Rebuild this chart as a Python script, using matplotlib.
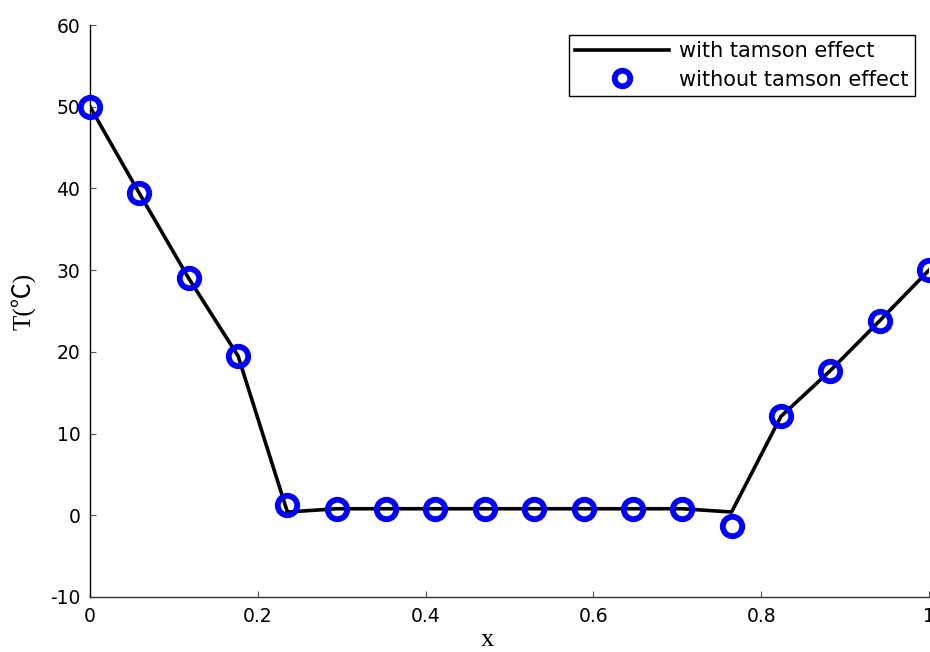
import matplotlib
matplotlib.use("Agg")
import matplotlib.pyplot as plt
import numpy as np

plt.rcParams['axes.unicode_minus'] = False

# x positions: 18 nodes on [0, 1]
x = np.linspace(0, 1, 18)
# temperature with tamson effect (line)
t_with = [50.0, 39.4, 29.0, 19.5, 0.4, 0.8, 0.8, 0.8, 0.8,
          0.8, 0.8, 0.8, 0.8, 0.4, 12.1, 17.7, 23.8, 30.0]
# temperature without tamson effect (circles)
t_without = [50.0, 39.4, 29.0, 19.5, 1.2, 0.8, 0.8, 0.8, 0.8,
             0.8, 0.8, 0.8, 0.8, -1.3, 12.1, 17.7, 23.8, 30.0]

xticks = [0, 0.2, 0.4, 0.6, 0.8, 1.0]
xticklabels = ['0', '0.2', '0.4', '0.6', '0.8', '1']
yticks = [-10, 0, 10, 20, 30, 40, 50, 60]

fig = plt.figure(figsize=(9.3, 6.52), dpi=100, facecolor='w')
ax = fig.add_axes([90 / 930, 1 - 597 / 652, 839 / 930, 572 / 652])

ax.plot(x, t_with, color='k', lw=2.6, label='with tamson effect', zorder=2)
ax.plot(x, t_without, ls='none', marker='o', markersize=14,
        markerfacecolor='none', markeredgecolor='#0000ff', markeredgewidth=4.2,
        label='without tamson effect', clip_on=False, zorder=3)

ax.set_xlim(0, 1)
ax.set_ylim(-10, 60)
ax.set_xticks(xticks)
ax.set_xticklabels(xticklabels)
ax.set_yticks(yticks)

# matlab look: only left and bottom axis, ticks inward
ax.spines['top'].set_visible(False)
ax.spines['right'].set_visible(False)
ax.spines['left'].set_linewidth(1.0)
ax.spines['bottom'].set_linewidth(1.0)
ax.spines['bottom'].set_color('#333333')
ax.tick_params(direction='in', length=4, width=0.8, color='#555555',
               labelsize=13.5, labelcolor='k', pad=7)
for lab in ax.get_xticklabels() + ax.get_yticklabels():
    lab.set_fontfamily('DejaVu Sans')

ax.set_xlabel('x', fontsize=19, family=['Liberation Serif', 'DejaVu Serif'])
ax.xaxis.label.set_va('center')
ax.xaxis.set_label_coords((487 - 90) / 839, (597 - 640) / 572)
ax.set_ylabel('T(℃)', fontsize=18,
              family=['Liberation Serif', 'Noto Sans CJK SC', 'DejaVu Sans'])
ax.yaxis.label.set_va('center')
ax.yaxis.set_label_coords((23 - 90) / 839, (597 - 301) / 572)

# legend box in the upper right corner
leg = ax.legend(loc='upper right', bbox_to_anchor=(915 / 930, 1 - 35 / 652),
                bbox_transform=fig.transFigure, fontsize=15, fancybox=False,
                framealpha=1, edgecolor='k', handlelength=4.5,
                handletextpad=0.5, borderpad=0.3, labelspacing=0.4,
                borderaxespad=0, markerscale=0.8)
leg.get_frame().set_linewidth(1.0)
for t in leg.get_texts():
    t.set_fontfamily('DejaVu Sans')

plt.savefig('out.png', dpi=100)
